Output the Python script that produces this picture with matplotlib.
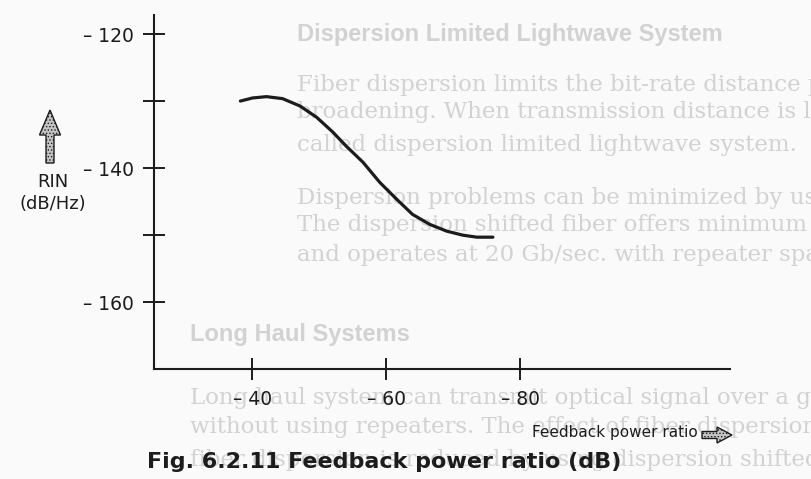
import matplotlib
matplotlib.use("Agg")
import matplotlib.pyplot as plt
from matplotlib.patches import FancyArrow

# RIN vs feedback power ratio; x holds the ratio magnitude in dB, labels carry the minus sign
feedback_db = [38.2, 40.0, 42.1, 44.5, 47.1, 49.6, 52.0, 54.0, 56.5, 59.0,
               61.5, 63.9, 66.5, 69.0, 71.4, 73.5, 75.9]
rin_db = [-129.96, -129.5, -129.3, -129.6, -130.7, -132.4, -134.6, -136.7, -139.1, -142.1,
          -144.6, -146.9, -148.4, -149.4, -150.0, -150.3, -150.3]

x_ticks = [40, 60, 80]
x_tick_labels = ["\u2013 40", "\u2013 60", "\u2013 80"]
y_ticks = [-120, -130, -140, -150, -160]
y_tick_labels = ["\u2013 120", "", "\u2013 140", "", "\u2013 160"]

# page text printed behind the figure
page_lines = [
    (297, 34, "Dispersion Limited Lightwave System", True),
    (297, 85, "Fiber dispersion limits the bit-rate distance product BL because", False),
    (297, 112, "broadening. When transmission distance is limited due to dispersion", False),
    (297, 145, "called dispersion limited lightwave system.", False),
    (297, 198, "Dispersion problems can be minimized by using dispersion shifted", False),
    (297, 225, "The dispersion shifted fiber offers minimum loss and dispersion", False),
    (297, 255, "and operates at 20 Gb/sec. with repeater spacing at 80 km.", False),
    (190, 335, "Long Haul Systems", True),
    (190, 398, "Long haul system can transmit optical signal over a great distance", False),
    (190, 427, "without using repeaters. The effect of fiber dispersion is reduced", False),
    (190, 460, "fiber dispersion is reduced by using dispersion shifted fiber", False),
]

plt.rcParams["font.family"] = ["DejaVu Sans"]
plt.rcParams["hatch.color"] = "#4a4a4a"
plt.rcParams["hatch.linewidth"] = 0.6

W, H = 811, 479
ink = "#1c1c1c"

fig = plt.figure(figsize=(W / 100, H / 100), dpi=100, facecolor="#fafafa")

for px, py, line, heading in page_lines:
    fig.text(px / W, 1 - py / H, line, ha="left", va="center", zorder=-1,
             color="#d2d2d2",
             family="Liberation Sans" if heading else "DejaVu Serif",
             fontsize=17 if heading else 16.5,
             fontweight="bold" if heading else "normal")

ax = fig.add_axes([154 / W, 110 / H, 576 / W, 354 / H])
ax.set_facecolor("none")
ax.set_xlim(25.3, 111.3)
ax.set_ylim(-170, -117.1)

ax.plot(feedback_db, rin_db, color=ink, lw=2.3, solid_capstyle="round",
        solid_joinstyle="round")

for side in ["top", "right"]:
    ax.spines[side].set_visible(False)
for side in ["left", "bottom"]:
    ax.spines[side].set_linewidth(1.5)
    ax.spines[side].set_color(ink)

ax.set_xticks(x_ticks)
ax.set_xticklabels(x_tick_labels)
ax.set_yticks(y_ticks)
ax.set_yticklabels(y_tick_labels)
ax.tick_params(direction="inout", length=16.5, width=1.4, color=ink,
               labelcolor=ink, labelsize=13.5)
ax.tick_params(axis="y", pad=6.5)
ax.tick_params(axis="x", pad=7)

# axis captions with block arrows
fig.text(53 / W, 1 - 182 / H, "RIN", ha="center", va="center", fontsize=13, color=ink)
fig.text(53 / W, 1 - 204 / H, "(dB/Hz)", ha="center", va="center", fontsize=13, color=ink)
up = FancyArrow(0.50, (H - 163) / 100, 0, 0.53, width=0.08, head_width=0.21,
                head_length=0.25, length_includes_head=True,
                transform=fig.dpi_scale_trans, facecolor="#c4c4c4", edgecolor=ink,
                lw=1.0, hatch=".....")
fig.add_artist(up)

fig.text(698 / W, 1 - 433 / H, "Feedback power ratio", ha="right", va="center",
         fontsize=11, color=ink)
right = FancyArrow(7.02, (H - 435) / 100, 0.30, 0, width=0.07, head_width=0.16,
                   head_length=0.15, length_includes_head=True,
                   transform=fig.dpi_scale_trans, facecolor="#c4c4c4", edgecolor=ink,
                   lw=1.0, hatch=".....")
fig.add_artist(right)

fig.text(147 / W, 1 - 462 / H, "Fig. 6.2.11 Feedback power ratio (dB)", ha="left",
         va="center", fontsize=16, fontweight="bold", color=ink)

fig.savefig("out.png", dpi=100, facecolor=fig.get_facecolor())
